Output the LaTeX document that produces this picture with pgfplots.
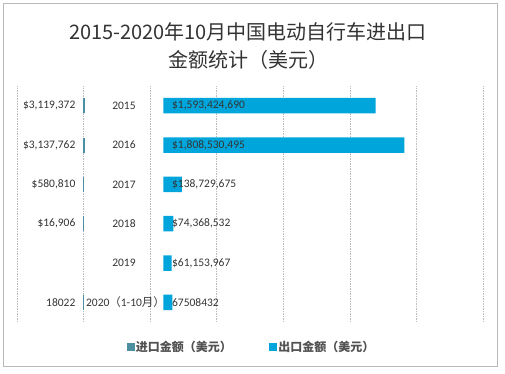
\documentclass[border=0pt]{standalone}
\usepackage{pgfplots}
\pgfplotsset{compat=1.18}
\usepackage{fontspec}
\setmainfont{Carlito}
\newfontfamily\cjk{Noto Sans CJK SC}
\definecolor{impcol}{RGB}{76,143,163}
\definecolor{expcol}{RGB}{0,166,219}
\definecolor{lbl}{RGB}{52,52,52}
\definecolor{ttl}{RGB}{51,51,51}
\begin{document}
\begin{tikzpicture}
\path[use as bounding box] (0pt,0pt) rectangle (505pt,373pt);
\draw[gray!55, line width=0.8pt] (3.5pt,6.5pt) rectangle (497.5pt,369.5pt);
\node[align=center, text=ttl, font=\cjk\fontsize{20}{28}\selectfont, inner sep=0] at (248pt,327pt)
  {2015-2020年10月中国电动自行车进出口\\金额统计（美元）};
\coordinate (O) at (17pt,51pt);
\pgfplotsset{base/.style={at={(O)}, anchor=south west, width=466pt, height=236pt,
  scale only axis, ymin=-0.5, ymax=5.5, axis line style={draw=none},
  major tick length=0pt, ytick=\empty, xticklabels={}, clip=false}}
% grid and year labels
\begin{axis}[base, xmin=0, xmax=7, xtick={0,...,7}, xmajorgrids,
  major grid style={gray!55, dash pattern=on 1.5pt off 1pt, line width=0.5pt}]
\addplot[draw=none, nodes near coords, point meta=explicit symbolic,
  every node near coord/.style={anchor=center, inner sep=0, text=lbl, font=\fontsize{11.5}{13}\selectfont}]
  coordinates {(1.607,5) [2015] (1.607,4) [2016] (1.607,3) [2017] (1.607,2) [2018] (1.607,1) [2019]
  (1.63,0) [{2020{\cjk （}1-10{\cjk 月）}}]};
\end{axis}
% exports
\begin{axis}[base, xmin=-1.1e9, xmax=2.4e9, xtick=\empty]
\addplot[xbar, bar width=15.5pt, fill=expcol, draw=none] coordinates {
  (1593424690,5) (1808530495,4) (138729675,3) (74368532,2) (61153967,1) (67508432,0)};
\addplot[draw=none, nodes near coords, point meta=explicit symbolic,
  every node near coord/.style={anchor=west, inner sep=0, xshift=8.5pt, text=lbl, font=\fontsize{11.5}{13}\selectfont}]
  coordinates {(0,5) [{\$1,593,424,690}] (0,4) [{\$1,808,530,495}] (0,3) [{\$138,729,675}]
  (0,2) [{\$74,368,532}] (0,1) [{\$61,153,967}] (0,0) [{67508432}]};
\end{axis}
% imports
\begin{axis}[base, xmin=-0.5e9, xmax=3.0e9, xtick=\empty,
  legend style={at={(0.503,-0.106)}, anchor=center, draw=none, fill=none, legend columns=2,
    font=\cjk\bfseries\fontsize{12}{14}\selectfont, text=lbl!85,
    /tikz/every even column/.append style={column sep=36pt}, nodes={inner sep=1.5pt}}]
\addplot[xbar, bar width=14pt, fill=impcol, draw=impcol, line width=0.8pt, forget plot] coordinates {
  (3119372,5) (3137762,4) (580810,3) (16906,2) (18022,0)};
\addplot[draw=none, nodes near coords, point meta=explicit symbolic, forget plot,
  every node near coord/.style={anchor=east, inner sep=0, xshift=-8pt, text=lbl, font=\fontsize{11.5}{13}\selectfont}]
  coordinates {(0,5) [{\$3,119,372}] (0,4) [{\$3,137,762}] (0,3) [{\$580,810}]
  (0,2) [{\$16,906}] (0,0) [{18022}]};
\addlegendimage{legend image code/.code={\fill[impcol] (0pt,-3.5pt) rectangle (7pt,3.5pt);}}
\addlegendentry{进口金额（美元）}
\addlegendimage{legend image code/.code={\fill[expcol] (0pt,-3.5pt) rectangle (7pt,3.5pt);}}
\addlegendentry{出口金额（美元）}
\end{axis}
\end{tikzpicture}
\end{document}
